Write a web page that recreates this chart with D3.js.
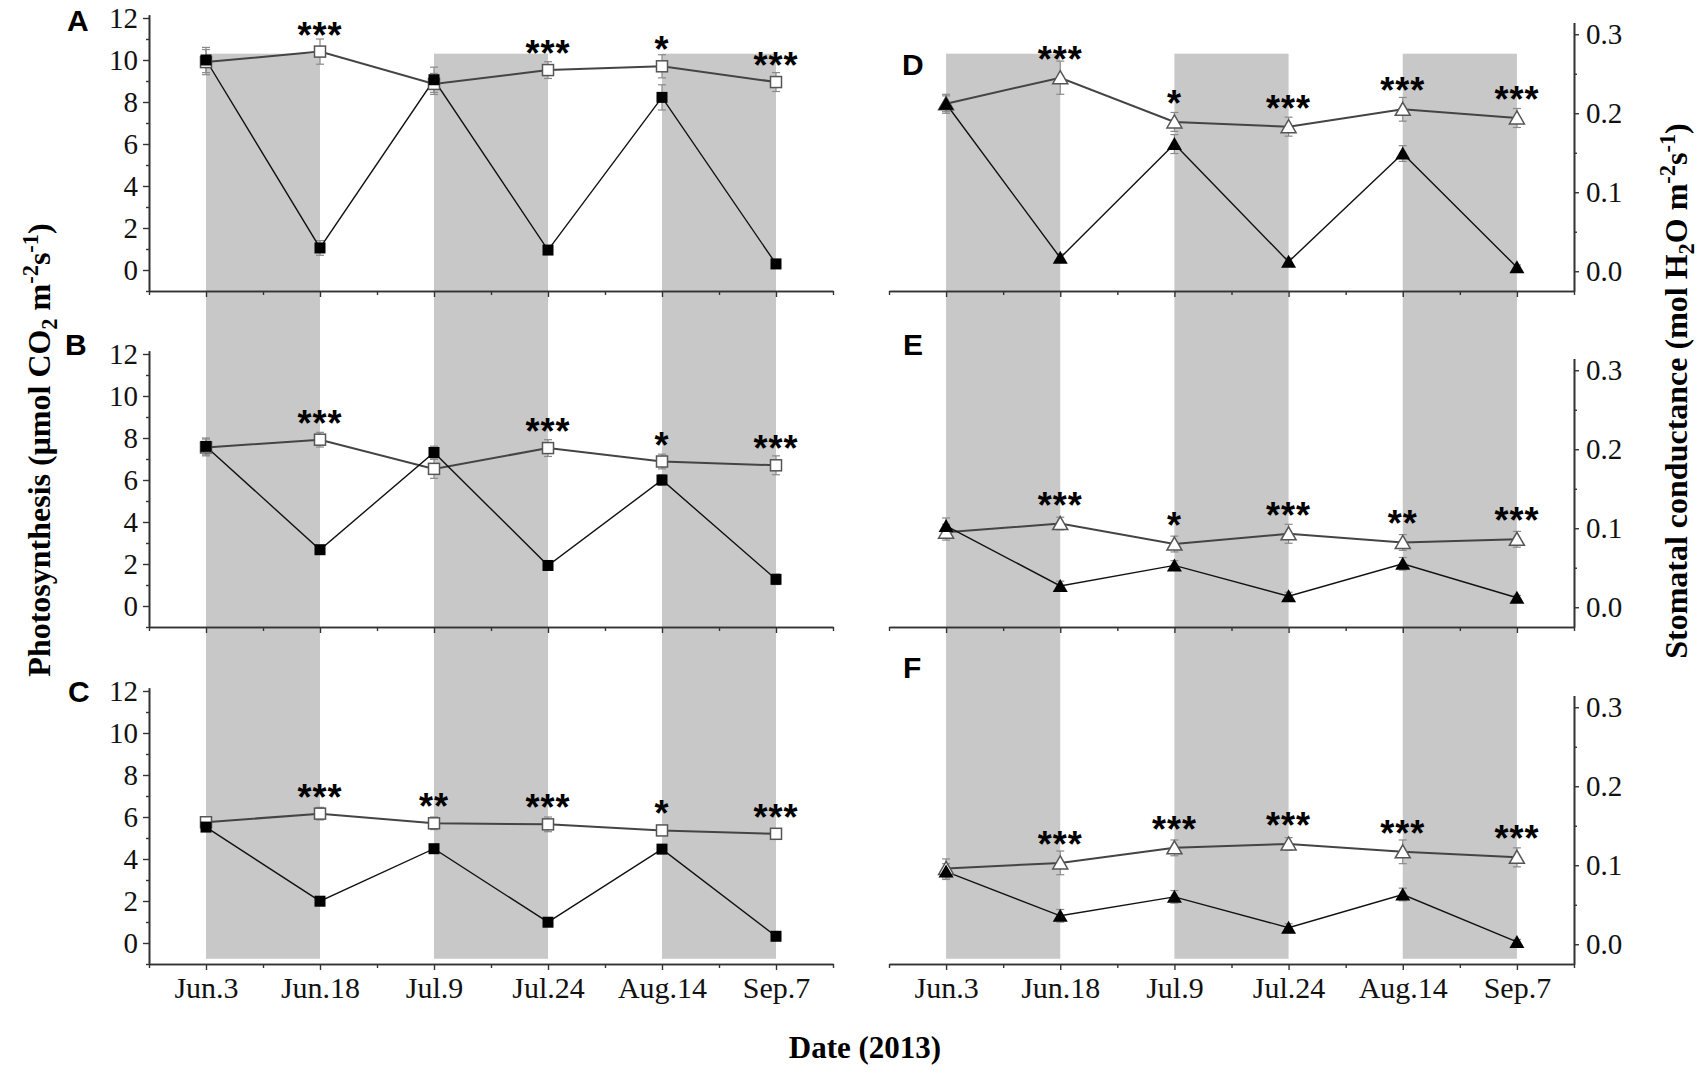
<!DOCTYPE html>
<html>
<head>
<meta charset="utf-8">
<script src="https://cdn.jsdelivr.net/npm/d3@7"></script>
<style>
  html, body { margin: 0; padding: 0; background: #fff; }
  svg { display: block; }
</style>
</head>
<body>
<svg id="chart" width="1700" height="1074"></svg>
<script>
// ---------------- data ----------------
const dates = ["Jun.3", "Jun.18", "Jul.9", "Jul.24", "Aug.14", "Sep.7"];
const panelLabels = ["A", "B", "C", "D", "E", "F"];
const leftTicks = [0, 2, 4, 6, 8, 10, 12];
const rightTicks = [0.0, 0.1, 0.2, 0.3];

// Photosynthesis (left column)
const aFilled    = [10.0, 1.05, 9.06, 0.95, 8.22, 0.29];
const aFilledErr = [0.6, 0.35, 0.6, 0.2, 0.6, 0.15];
const aOpen      = [9.9, 10.4, 8.86, 9.52, 9.7, 8.95];
const aOpenErr   = [0.6, 0.6, 0.5, 0.4, 0.55, 0.45];
const aStars     = ["", "***", "", "***", "*", "***"];

const bFilled    = [7.6, 2.68, 7.31, 1.93, 6.0, 1.27];
const bFilledErr = [0.4, 0.2, 0.3, 0.2, 0.25, 0.25];
const bOpen      = [7.55, 7.92, 6.53, 7.52, 6.88, 6.7];
const bOpenErr   = [0.4, 0.35, 0.45, 0.4, 0.35, 0.45];
const bStars     = ["", "***", "", "***", "*", "***"];

const cFilled    = [5.52, 1.99, 4.49, 0.99, 4.47, 0.32];
const cFilledErr = [0.2, 0.2, 0.2, 0.15, 0.2, 0.15];
const cOpen      = [5.75, 6.16, 5.7, 5.65, 5.36, 5.2];
const cOpenErr   = [0.2, 0.3, 0.3, 0.35, 0.2, 0.2];
const cStars     = ["", "***", "**", "***", "*", "***"];

// Stomatal conductance (right column)
const dFilled    = [0.212, 0.017, 0.161, 0.012, 0.149, 0.005];
const dFilledErr = [0.01, 0.005, 0.012, 0.005, 0.01, 0.003];
const dOpen      = [0.212, 0.245, 0.189, 0.183, 0.205, 0.194];
const dOpenErr   = [0.012, 0.021, 0.012, 0.012, 0.015, 0.012];
const dStars     = ["", "***", "*", "***", "***", "***"];

const eFilled    = [0.103, 0.027, 0.053, 0.014, 0.055, 0.012];
const eFilledErr = [0.01, 0.006, 0.006, 0.005, 0.008, 0.003];
const eOpen      = [0.095, 0.106, 0.080, 0.093, 0.082, 0.086];
const eOpenErr   = [0.01, 0.008, 0.01, 0.012, 0.01, 0.01];
const eStars     = ["", "***", "*", "***", "**", "***"];

const fFilled    = [0.092, 0.036, 0.060, 0.021, 0.063, 0.003];
const fFilledErr = [0.01, 0.008, 0.008, 0.005, 0.008, 0.003];
const fOpen      = [0.096, 0.103, 0.122, 0.127, 0.117, 0.110];
const fOpenErr   = [0.012, 0.015, 0.01, 0.008, 0.015, 0.012];
const fStars     = ["", "***", "***", "***", "***", "***"];

// shaded periods (index ranges on the date axis)
const bandStarts = [0, 2, 4];
const bandEnds   = [1, 3, 5];

// ---------------- layout ----------------
const svg = d3.select("#chart");
const serif = "'Liberation Serif', 'Times New Roman', serif";
const sans = "'Liberation Sans', Arial, sans-serif";
const rowAxisY = [291, 627, 964];

const xL = d3.scaleLinear().domain([-0.5, 5.5]).range([149, 833]);
const xR = d3.scaleLinear().domain([-0.5, 5.5]).range([889, 1574]);

function yLeft(row) {
  const b = rowAxisY[row];
  return d3.scaleLinear().domain([-1, 12.15]).range([b, b - 13.15 * 21]);
}
function yRight(row) {
  const b = rowAxisY[row];
  return d3.scaleLinear().domain([-0.025, 0.315]).range([b, b - 0.34 * 790]);
}

const panels = [
  {label: "A", side: "L", row: 0, filled: aFilled, fErr: aFilledErr, open: aOpen, oErr: aOpenErr, stars: aStars},
  {label: "B", side: "L", row: 1, filled: bFilled, fErr: bFilledErr, open: bOpen, oErr: bOpenErr, stars: bStars},
  {label: "C", side: "L", row: 2, filled: cFilled, fErr: cFilledErr, open: cOpen, oErr: cOpenErr, stars: cStars},
  {label: "D", side: "R", row: 0, filled: dFilled, fErr: dFilledErr, open: dOpen, oErr: dOpenErr, stars: dStars},
  {label: "E", side: "R", row: 1, filled: eFilled, fErr: eFilledErr, open: eOpen, oErr: eOpenErr, stars: eStars},
  {label: "F", side: "R", row: 2, filled: fFilled, fErr: fFilledErr, open: fOpen, oErr: fOpenErr, stars: fStars}
];

// ---------------- gray bands (span all three rows) ----------------
const bandTopL = yLeft(0)(10.3);
const bandBotL = yLeft(2)(-0.75);
[xL, xR].forEach(x => {
  svg.append("g").selectAll("rect")
    .data(bandStarts.map((s, i) => [s, bandEnds[i]]))
    .join("rect")
    .attr("x", d => x(d[0]))
    .attr("width", d => x(d[1]) - x(d[0]))
    .attr("y", bandTopL)
    .attr("height", bandBotL - bandTopL)
    .attr("fill", "#c8c8c8");
});

// ---------------- axes ----------------
const axisColor = "#333";
function styleAxis(g, fontSize) {
  g.attr("font-family", null).attr("font-size", null);
  g.selectAll("path.domain").attr("stroke", axisColor).attr("stroke-width", 1.6);
  g.selectAll(".tick line").attr("stroke", axisColor).attr("stroke-width", 1.4);
  g.selectAll(".tick text")
    .style("font-family", serif).style("font-size", fontSize + "px").attr("fill", "#111");
}

panels.forEach(p => {
  const x = p.side === "L" ? xL : xR;
  const y = p.side === "L" ? yLeft(p.row) : yRight(p.row);
  const axisY = rowAxisY[p.row];
  const bottomRow = p.row === 2;

  // x-axis
  const minorX = d3.range(-0.5, 5.51, 1);
  svg.append("g").attr("transform", `translate(0,${axisY})`)
    .call(d3.axisBottom(x).tickValues(minorX).tickSize(4).tickSizeOuter(0).tickFormat(""))
    .call(g => styleAxis(g, 30));
  svg.append("g").attr("transform", `translate(0,${axisY})`)
    .call(d3.axisBottom(x).tickValues(d3.range(0, 6)).tickSize(6).tickSizeOuter(0).tickPadding(7)
      .tickFormat(i => bottomRow ? dates[i] : ""))
    .call(g => styleAxis(g, 30));

  // y-axis
  if (p.side === "L") {
    const ax0 = x.range()[0];
    svg.append("g").attr("transform", `translate(${ax0},0)`)
      .call(d3.axisLeft(y).tickValues([-1, 1, 3, 5, 7, 9, 11]).tickSize(3).tickSizeOuter(0).tickFormat(""))
      .call(g => styleAxis(g, 28));
    svg.append("g").attr("transform", `translate(${ax0},0)`)
      .call(d3.axisLeft(y).tickValues(leftTicks).tickSize(6).tickSizeOuter(0).tickPadding(5).tickFormat(d3.format("d")))
      .call(g => styleAxis(g, 29));
  } else {
    const ax1 = x.range()[1];
    svg.append("g").attr("transform", `translate(${ax1},0)`)
      .call(d3.axisRight(y).tickValues([0.05, 0.15, 0.25]).tickSize(3).tickSizeOuter(0).tickFormat(""))
      .call(g => styleAxis(g, 29));
    svg.append("g").attr("transform", `translate(${ax1},0)`)
      .call(d3.axisRight(y).tickValues(rightTicks).tickSize(5).tickSizeOuter(0).tickPadding(7).tickFormat(d3.format(".1f")))
      .call(g => styleAxis(g, 29));
  }

  const g = svg.append("g");
  const idx = d3.range(dates.length);
  const line = vals => d3.line().x(i => x(i)).y(i => y(vals[i]))(idx);

  // error bars
  const errColor = "#8a8a8a";
  [[p.open, p.oErr], [p.filled, p.fErr]].forEach(([vals, errs]) => {
    const eg = g.append("g").attr("stroke", errColor).attr("stroke-width", 1.2);
    idx.forEach(i => {
      const cx = x(i), y1 = y(vals[i] + errs[i]), y2 = y(vals[i] - errs[i]);
      eg.append("line").attr("x1", cx).attr("x2", cx).attr("y1", y1).attr("y2", y2);
      eg.append("line").attr("x1", cx - 4).attr("x2", cx + 4).attr("y1", y1).attr("y2", y1);
      eg.append("line").attr("x1", cx - 4).attr("x2", cx + 4).attr("y1", y2).attr("y2", y2);
    });
  });

  // lines
  g.append("path").attr("d", line(p.open)).attr("fill", "none").attr("stroke", "#444").attr("stroke-width", 2);
  g.append("path").attr("d", line(p.filled)).attr("fill", "none").attr("stroke", "#111").attr("stroke-width", 1.4);

  // markers
  if (p.side === "L") {
    g.selectAll("rect.open").data(idx).join("rect").attr("class", "open")
      .attr("x", i => x(i) - 5.5).attr("y", i => y(p.open[i]) - 5.5)
      .attr("width", 11).attr("height", 11)
      .attr("fill", "#fff").attr("stroke", "#555").attr("stroke-width", 1.5);
    g.selectAll("rect.filled").data(idx).join("rect").attr("class", "filled")
      .attr("x", i => x(i) - 5.5).attr("y", i => y(p.filled[i]) - 5.5)
      .attr("width", 11).attr("height", 11)
      .attr("fill", "#000");
  } else {
    const tri = "M0,-7L7.5,6L-7.5,6Z";
    g.selectAll("path.open").data(idx).join("path").attr("class", "open")
      .attr("d", tri).attr("transform", i => `translate(${x(i)},${y(p.open[i])})`)
      .attr("fill", "#fff").attr("stroke", "#555").attr("stroke-width", 1.5);
    g.selectAll("path.filled").data(idx).join("path").attr("class", "filled")
      .attr("d", tri).attr("transform", i => `translate(${x(i)},${y(p.filled[i])})`)
      .attr("fill", "#000");
  }

  // significance stars
  const off = p.side === "L" ? 25 : 27;
  g.selectAll("text.star").data(idx.filter(i => p.stars[i])).join("text").attr("class", "star")
    .attr("x", i => x(i)).attr("y", i => y(p.open[i]) - off + 21)
    .attr("text-anchor", "middle")
    .attr("font-family", sans).attr("font-weight", "bold").attr("font-size", 36)
    .attr("letter-spacing", 1)
    .text(i => p.stars[i]);
});

// panel letters
const letterPos = {A: [67, 31], B: [65, 355], C: [68, 702], D: [902, 75], E: [903, 355], F: [903, 678]};
panelLabels.forEach(l => {
  svg.append("text").attr("x", letterPos[l][0]).attr("y", letterPos[l][1])
    .attr("font-family", sans).attr("font-weight", "bold").attr("font-size", 30)
    .text(l);
});

// axis titles
const leftTitle = svg.append("text")
  .attr("transform", "translate(50,450) rotate(-90)")
  .attr("text-anchor", "middle")
  .attr("font-family", serif).attr("font-weight", "bold").attr("font-size", 32);
(function () {
  const sel = leftTitle;
  sel.append("tspan").text("Photosynthesis (\u03bcmol CO");
  sel.append("tspan").attr("font-size", "70%").attr("dy", 7).text("2");
  sel.append("tspan").attr("dy", -7).text(" m");
  sel.append("tspan").attr("font-size", "70%").attr("dy", -12).text("-2");
  sel.append("tspan").attr("dy", 12).text("s");
  sel.append("tspan").attr("font-size", "70%").attr("dy", -12).text("-1");
  sel.append("tspan").attr("dy", 12).text(")");
})();

const rightTitle = svg.append("text")
  .attr("transform", "translate(1687,391) rotate(-90)")
  .attr("text-anchor", "middle")
  .attr("font-family", serif).attr("font-weight", "bold").attr("font-size", 32);
(function () {
  const sel = rightTitle;
  sel.append("tspan").text("Stomatal conductance (mol H");
  sel.append("tspan").attr("font-size", "70%").attr("dy", 7).text("2");
  sel.append("tspan").attr("dy", -7).text("O m");
  sel.append("tspan").attr("font-size", "70%").attr("dy", -12).text("-2");
  sel.append("tspan").attr("dy", 12).text("s");
  sel.append("tspan").attr("font-size", "70%").attr("dy", -12).text("-1");
  sel.append("tspan").attr("dy", 12).text(")");
})();

svg.append("text").attr("x", 865).attr("y", 1058)
  .attr("text-anchor", "middle")
  .attr("font-family", serif).attr("font-weight", "bold").attr("font-size", 31)
  .text("Date (2013)");
</script>
</body>
</html>
